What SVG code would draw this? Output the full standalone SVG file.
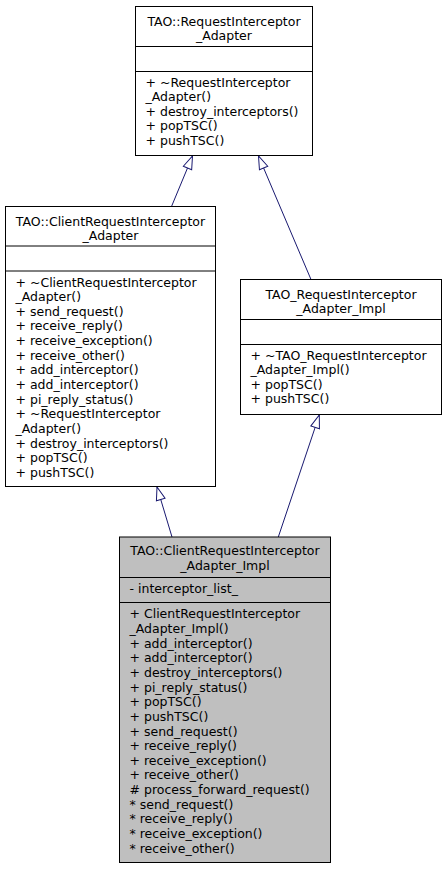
<svg xmlns="http://www.w3.org/2000/svg" width="447" height="869" viewBox="0 0 447 869">
<style>
.box{fill:#ffffff;stroke:#000000;stroke-width:1}
.cur{fill:#bfbfbf;stroke:#000000;stroke-width:1}
.sep{stroke:#000000;stroke-width:1}
text{font-family:"DejaVu Sans","Liberation Sans",sans-serif;font-size:12.5px;fill:#000000}
.t{text-anchor:middle}
.edge{fill:none;stroke:#191970;stroke-width:1;marker-end:url(#inh)}
</style>
<defs>
<marker id="inh" markerUnits="userSpaceOnUse" viewBox="-1 -6 15 12" markerWidth="15" markerHeight="12" refX="13" refY="0" orient="auto">
<path d="M0,-4.5 L13,0 L0,4.5 Z" fill="#ffffff" stroke="#191970" stroke-width="1"/>
</marker>
</defs>
<rect width="447" height="869" fill="#ffffff"/>
<g id="connectors">
<path class="edge" d="M171.5,206.5 L192.5,156"/>
<path class="edge" d="M311,279.5 L258.5,156"/>
<path class="edge" d="M172,537 L157,487"/>
<path class="edge" d="M278.3,537 L319.3,415"/>
</g>
<g id="node-RequestInterceptor_Adapter">
<rect class="box" x="135.5" y="6.5" width="177" height="149"/>
<line class="sep" x1="135.5" y1="46.5" x2="312.5" y2="46.5"/>
<line class="sep" x1="135.5" y1="71.5" x2="312.5" y2="71.5"/>
<text class="t" x="224" y="25.5">TAO::RequestInterceptor</text>
<text class="t" x="224" y="40">_Adapter</text>
<text x="145.5" y="86.5"><tspan x="145.5">+ ~RequestInterceptor</tspan><tspan x="145.5" dy="14.65">_Adapter()</tspan><tspan x="145.5" dy="14.65">+ destroy_interceptors()</tspan><tspan x="145.5" dy="14.65">+ popTSC()</tspan><tspan x="145.5" dy="14.65">+ pushTSC()</tspan></text>
</g>
<g id="node-ClientRequestInterceptor_Adapter">
<rect class="box" x="5.5" y="206.5" width="210" height="280"/>
<line class="sep" x1="5.5" y1="246" x2="215.5" y2="246"/>
<line class="sep" x1="5.5" y1="271" x2="215.5" y2="271"/>
<text class="t" x="110.5" y="225.5">TAO::ClientRequestInterceptor</text>
<text class="t" x="110.5" y="240">_Adapter</text>
<text x="15.5" y="286.5"><tspan x="15.5">+ ~ClientRequestInterceptor</tspan><tspan x="15.5" dy="14.65">_Adapter()</tspan><tspan x="15.5" dy="14.65">+ send_request()</tspan><tspan x="15.5" dy="14.65">+ receive_reply()</tspan><tspan x="15.5" dy="14.65">+ receive_exception()</tspan><tspan x="15.5" dy="14.65">+ receive_other()</tspan><tspan x="15.5" dy="14.65">+ add_interceptor()</tspan><tspan x="15.5" dy="14.65">+ add_interceptor()</tspan><tspan x="15.5" dy="14.65">+ pi_reply_status()</tspan><tspan x="15.5" dy="14.65">+ ~RequestInterceptor</tspan><tspan x="15.5" dy="14.65">_Adapter()</tspan><tspan x="15.5" dy="14.65">+ destroy_interceptors()</tspan><tspan x="15.5" dy="14.65">+ popTSC()</tspan><tspan x="15.5" dy="14.65">+ pushTSC()</tspan></text>
</g>
<g id="node-TAO_RequestInterceptor_Adapter_Impl">
<rect class="box" x="240.5" y="279.5" width="201" height="135"/>
<line class="sep" x1="240.5" y1="319.5" x2="441.5" y2="319.5"/>
<line class="sep" x1="240.5" y1="344.5" x2="441.5" y2="344.5"/>
<text class="t" x="341" y="298.5">TAO_RequestInterceptor</text>
<text class="t" x="341" y="313">_Adapter_Impl</text>
<text x="250.5" y="359.5"><tspan x="250.5">+ ~TAO_RequestInterceptor</tspan><tspan x="250.5" dy="14.65">_Adapter_Impl()</tspan><tspan x="250.5" dy="14.65">+ popTSC()</tspan><tspan x="250.5" dy="14.65">+ pushTSC()</tspan></text>
</g>
<g id="node-ClientRequestInterceptor_Adapter_Impl">
<rect class="cur" x="119.5" y="537" width="211" height="325.5"/>
<line class="sep" x1="119.5" y1="577.5" x2="330.5" y2="577.5"/>
<line class="sep" x1="119.5" y1="602.5" x2="330.5" y2="602.5"/>
<text class="t" x="225" y="555">TAO::ClientRequestInterceptor</text>
<text class="t" x="225" y="569.5">_Adapter_Impl</text>
<text x="129.5" y="592.5">- interceptor_list_</text>
<text x="129.5" y="618.3"><tspan x="129.5">+ ClientRequestInterceptor</tspan><tspan x="129.5" dy="14.65">_Adapter_Impl()</tspan><tspan x="129.5" dy="14.65">+ add_interceptor()</tspan><tspan x="129.5" dy="14.65">+ add_interceptor()</tspan><tspan x="129.5" dy="14.65">+ destroy_interceptors()</tspan><tspan x="129.5" dy="14.65">+ pi_reply_status()</tspan><tspan x="129.5" dy="14.65">+ popTSC()</tspan><tspan x="129.5" dy="14.65">+ pushTSC()</tspan><tspan x="129.5" dy="14.65">+ send_request()</tspan><tspan x="129.5" dy="14.65">+ receive_reply()</tspan><tspan x="129.5" dy="14.65">+ receive_exception()</tspan><tspan x="129.5" dy="14.65">+ receive_other()</tspan><tspan x="129.5" dy="14.65"># process_forward_request()</tspan><tspan x="129.5" dy="14.65">* send_request()</tspan><tspan x="129.5" dy="14.65">* receive_reply()</tspan><tspan x="129.5" dy="14.65">* receive_exception()</tspan><tspan x="129.5" dy="14.65">* receive_other()</tspan></text>
</g>
</svg>
